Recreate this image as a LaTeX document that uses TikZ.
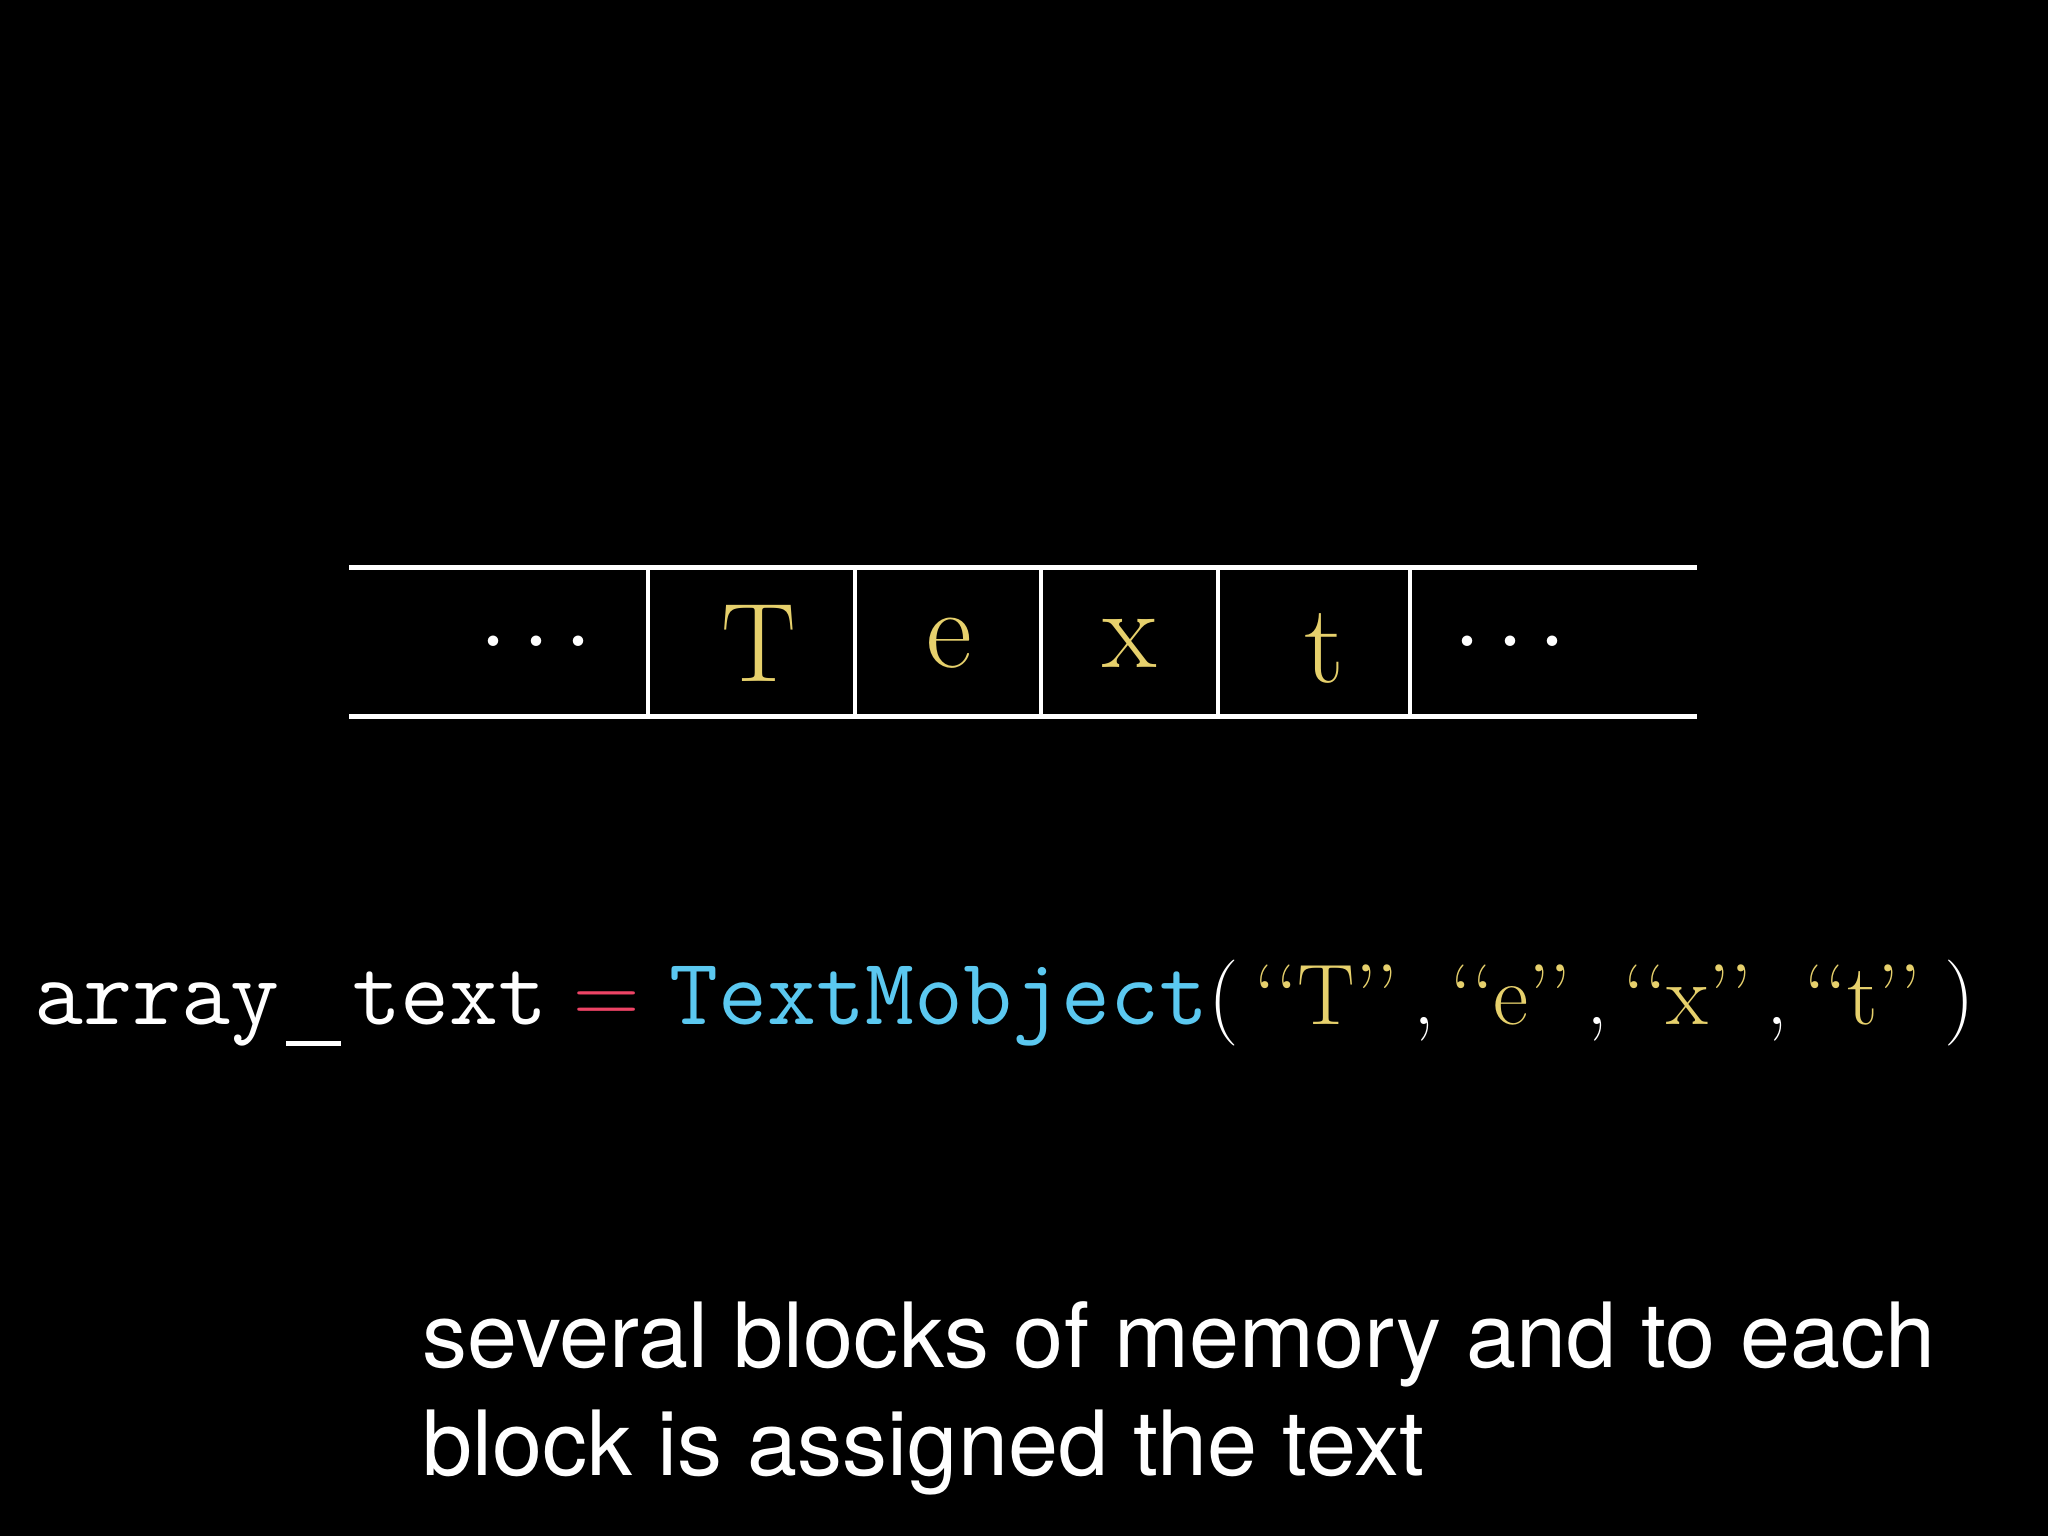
\documentclass[tikz,border=0pt]{standalone}
\usepackage{fontspec}
\newfontfamily\subfont{TeX Gyre Heros}
\definecolor{yel}{HTML}{E6D06C}
\definecolor{eqred}{HTML}{EE4466}
\definecolor{tblue}{HTML}{5BC8F0}
\newcommand{\qitem}[1]{\textcolor{yel}{‘\kern0pt‘#1’\kern0pt’}}
\newcommand{\qsep}{\kern7.5pt,\kern8pt}
\newcommand{\mydots}{.\kern0.085em.\kern0.085em.}
\newcommand{\ttunder}{\kern3.5pt\rule[-11pt]{27.5pt}{2.5pt}\kern5.5pt}
\tikzset{
  memline/.style={white, line width=2.5pt},
  sepline/.style={white, line width=2pt},
  cellchar/.style={text=yel, inner sep=0pt, font=\fontsize{56}{60}\selectfont},
  celldots/.style={text=white, inner sep=0pt, font=\fontsize{64}{70}\selectfont},
  codeline/.style={text=white, inner sep=0pt, anchor=base west, font=\fontsize{46}{55}\selectfont},
  subline/.style={text=white, inner sep=0pt, anchor=base west, font=\subfont\fontsize{45}{54}\selectfont},
}
\begin{document}
\begin{tikzpicture}[x=0.5pt,y=-0.5pt]
\fill[black] (0,0) rectangle (2048,1536);
\useasboundingbox (0,0) rectangle (2048,1536);
% memory strip
\draw[memline] (349,567) -- (1697,567);
\draw[memline] (349,716) -- (1697,716);
\foreach \xx in {648,855,1041,1218,1410}{
  \draw[sepline] (\xx,567) -- (\xx,716);
}
\node[celldots] (dl) at (536,641) {\mydots};
\node[cellchar] (cT) at (759,643) {T};
\node[cellchar] (ce) at (949,643) {e};
\node[cellchar] (cx) at (1130,643) {x};
\node[cellchar] (ct) at (1324,648) {t};
\node[celldots] (dr) at (1510,641) {\mydots};
% code line
\node[codeline] (code) at (34,1024) {{\fontsize{47.5}{55}\selectfont\texttt{array}\ttunder\texttt{text}}\hspace{13pt}\textcolor{eqred}{=}\hspace{15pt}{\fontsize{47.5}{55}\selectfont\textcolor{tblue}{\texttt{TextMobject}}}{\fontsize{43}{50}\selectfont(\kern8pt\qitem{T}\qsep\qitem{e}\qsep\qitem{x}\qsep\qitem{t}\kern12pt)}};
% subtitle
\node[subline] (sub1) at (422,1367) {several blocks of memory and to each};
\node[subline] (sub2) at (422,1475) {block is assigned the text};
\end{tikzpicture}
\end{document}
